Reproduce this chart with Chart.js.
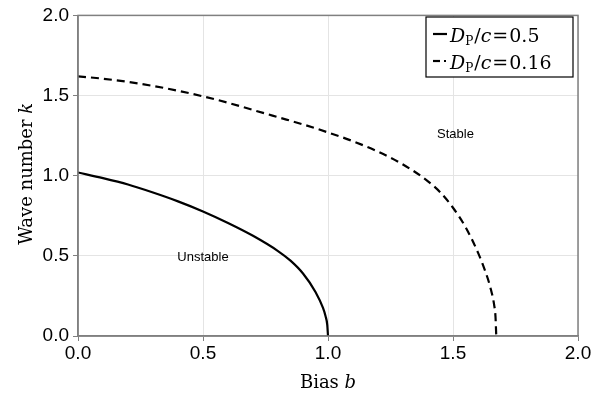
<!DOCTYPE html>
<html>
<head>
<meta charset="utf-8">
<script src="https://cdn.jsdelivr.net/npm/chart.js@4"></script>
<style>
  html, body { margin: 0; padding: 0; background: #fff; }
  #wrap { width: 611px; height: 397px; }
</style>
</head>
<body>
<div id="wrap"><canvas id="c" width="611" height="397"></canvas></div>
<script>
// data
const biasSolid = [0, 0.1, 0.2, 0.3, 0.4, 0.5, 0.6, 0.7, 0.8, 0.85, 0.9, 0.95, 0.98, 0.99, 0.997, 1.0];
const kSolid    = [1.02, 0.985, 0.945, 0.895, 0.84, 0.777, 0.705, 0.625, 0.53, 0.47, 0.39, 0.275, 0.175, 0.125, 0.07, 0.0];

const biasDashed = [0, 0.1, 0.2, 0.3, 0.4, 0.5, 0.6, 0.7, 0.8, 0.9, 1.0, 1.1, 1.2, 1.3, 1.4, 1.45, 1.5, 1.55, 1.6, 1.63, 1.65, 1.665, 1.67, 1.673];
const kDashed    = [1.62, 1.605, 1.585, 1.56, 1.53, 1.495, 1.455, 1.41, 1.365, 1.32, 1.27, 1.215, 1.15, 1.07, 0.965, 0.895, 0.80, 0.68, 0.52, 0.40, 0.30, 0.19, 0.12, 0.0];

const tickValues = [0, 0.5, 1.0, 1.5, 2.0];
const legendLabels = ["0.5", "0.16"];
const regionLabels = [
  { text: "Stable", x: 1.51, y: 1.26 },
  { text: "Unstable", x: 0.5, y: 0.49 }
];

const toPts = (xs, ys) => xs.map((x, i) => ({ x: x, y: ys[i] }));

const serif = "'DejaVu Serif', 'Liberation Serif', serif";
const sans = "'Liberation Sans', Arial, sans-serif";

// draw a run of [text, font, dy, extraGap] pieces from x
function drawRun(ctx, parts, x, y) {
  parts.forEach(p => {
    ctx.font = p[1];
    ctx.fillText(p[0], x, y + (p[2] || 0));
    x += ctx.measureText(p[0]).width + (p[3] || 0);
  });
  return x;
}
function runWidth(ctx, parts) {
  let w = 0;
  parts.forEach(p => { ctx.font = p[1]; w += ctx.measureText(p[0]).width + (p[3] || 0); });
  return w;
}

// frame, axis titles, region labels, legend
const extrasPlugin = {
  id: "extras",
  afterDraw(chart) {
    const { ctx, chartArea: a, scales } = chart;
    ctx.save();

    // full frame
    ctx.strokeStyle = "#808080";
    ctx.lineWidth = 1.5;
    ctx.strokeRect(a.left, a.top, a.right - a.left, a.bottom - a.top);

    // region labels
    ctx.fillStyle = "#000";
    ctx.font = "13px " + sans;
    ctx.textAlign = "center";
    ctx.textBaseline = "middle";
    regionLabels.forEach(r => {
      ctx.fillText(r.text, scales.x.getPixelForValue(r.x), scales.y.getPixelForValue(r.y));
    });

    ctx.textAlign = "left";
    ctx.textBaseline = "alphabetic";

    // x title: Bias b
    const xt = [["Bias ", "18px " + serif], ["b", "italic 18px " + serif]];
    drawRun(ctx, xt, (a.left + a.right) / 2 - runWidth(ctx, xt) / 2, 388);

    // y title: Wave number k
    ctx.save();
    ctx.translate(32, (a.top + a.bottom) / 2 - 2);
    ctx.rotate(-Math.PI / 2);
    const yt = [["Wave number ", "18px " + serif], ["k", "italic 18px " + serif]];
    drawRun(ctx, yt, -runWidth(ctx, yt) / 2, 0);
    ctx.restore();

    // legend box
    const lx = 426, ly = 17, lw = 147, lh = 60;
    ctx.fillStyle = "#fff";
    ctx.fillRect(lx, ly, lw, lh);
    ctx.strokeStyle = "#000";
    ctx.lineWidth = 1.2;
    ctx.strokeRect(lx, ly, lw, lh);

    const rows = [ly + 17, ly + 44];
    rows.forEach((ry, i) => {
      ctx.strokeStyle = "#000";
      ctx.fillStyle = "#000";
      ctx.lineWidth = 2.2;
      ctx.beginPath();
      if (i === 0) {
        ctx.moveTo(lx + 7, ry);
        ctx.lineTo(lx + 21, ry);
      } else {
        ctx.moveTo(lx + 7, ry);
        ctx.lineTo(lx + 14, ry);
      }
      ctx.stroke();
      if (i === 1) ctx.fillRect(lx + 18, ry - 1, 2, 2);

      const parts = [
        ["D", "italic 19px " + serif],
        ["P", "12px " + serif, 3, 1],
        ["/", "19px " + serif],
        ["c", "italic 19px " + serif, 0, 1],
        ["=", "19px " + serif, 0, 1],
        [legendLabels[i], "19px " + serif]
      ];
      drawRun(ctx, parts, lx + 24, ry + 8);
    });

    ctx.restore();
  }
};

new Chart(document.getElementById("c"), {
  type: "line",
  data: {
    datasets: [
      {
        label: "Dp/c = 0.5",
        data: toPts(biasSolid, kSolid),
        borderColor: "#000",
        borderWidth: 2.2,
        pointRadius: 0,
        cubicInterpolationMode: "monotone",
        fill: false
      },
      {
        label: "Dp/c = 0.16",
        data: toPts(biasDashed, kDashed),
        borderColor: "#000",
        borderWidth: 2.2,
        borderDash: [8, 5],
        pointRadius: 0,
        cubicInterpolationMode: "monotone",
        fill: false
      }
    ]
  },
  options: {
    responsive: false,
    animation: false,
    layout: { padding: { top: 10, right: 33, left: 0, bottom: 0 } },
    plugins: {
      legend: { display: false },
      tooltip: { enabled: false }
    },
    scales: {
      x: {
        type: "linear",
        min: 0,
        max: 2,
        afterBuildTicks: s => { s.ticks = tickValues.map(v => ({ value: v })); },
        afterFit: s => { s.height = 61; },
        grid: { color: "#e4e4e4", tickColor: "#808080", tickLength: 5 },
        border: { color: "#808080", width: 1.5 },
        ticks: {
          color: "#000",
          padding: 1,
          maxRotation: 0,
          font: { family: sans, size: 19 },
          callback: v => v.toFixed(1)
        }
      },
      y: {
        min: 0,
        max: 2,
        afterBuildTicks: s => { s.ticks = tickValues.map(v => ({ value: v })); },
        afterFit: s => { s.width = 78; },
        grid: { color: "#e4e4e4", tickColor: "#808080", tickLength: 5 },
        border: { color: "#808080", width: 1.5 },
        ticks: {
          color: "#000",
          padding: 4,
          font: { family: sans, size: 19 },
          callback: v => v.toFixed(1)
        }
      }
    }
  },
  plugins: [extrasPlugin]
});
</script>
</body>
</html>
